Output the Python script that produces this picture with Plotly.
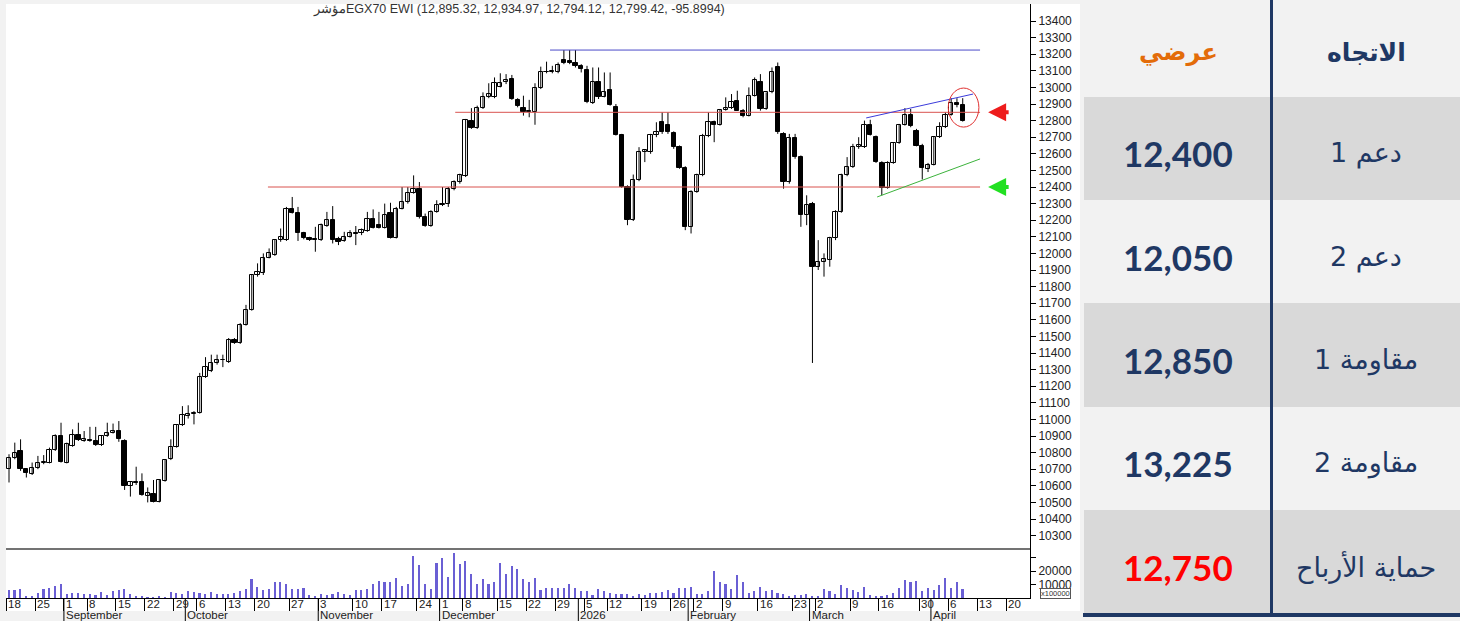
import plotly.graph_objects as go

W, H = 1460, 621

# ---------------- data ----------------
opens = [10700, 10770, 10810, 10700, 10670, 10710, 10735, 10740, 10815, 10900,
         10740, 10840, 10905, 10870, 10875, 10870, 10845, 10900, 10920, 10930,
         10870, 10600, 10625, 10620, 10540, 10550, 10505, 10630, 10760, 10835,
         10965, 11020, 11030, 11040, 11255, 11290, 11340, 11355, 11345, 11480,
         11460, 11570, 11660, 11870, 11880, 11975, 11990, 12080, 12080, 12270,
         12245, 12125, 12090, 12085, 12080, 12165, 12200, 12085, 12075, 12100,
         12120, 12120, 12135, 12210, 12170, 12155, 12245, 12095, 12270, 12310,
         12365, 12385, 12220, 12165, 12250, 12290, 12300, 12390, 12430, 12465,
         12795, 12755, 12875, 12940, 12940, 13005, 13030, 13050, 12925, 12875,
         12855, 12850, 12995, 13090, 13095, 13090, 13165, 13160, 13145, 13130,
         13105, 12905, 13030, 12945, 12985, 12880, 12715, 12400, 12200, 12440,
         12610, 12610, 12715, 12790, 12775, 12725, 12640, 12515, 12160, 12370,
         12470, 12710, 12790, 12775, 12865, 12875, 12920, 12860, 12830, 12950,
         13030, 12870, 12970, 13120, 12720, 12430, 12695, 12580, 12230, 12300,
         11920, 11950, 11960, 12090, 12250, 12470, 12520, 12640, 12640, 12775,
         12700, 12545, 12395, 12545, 12665, 12775, 12835, 12740, 12650, 12510,
         12535, 12700, 12760, 12835, 12905, 12895.32]
highs = [10790, 10860, 10880, 10705, 10740, 10780, 10785, 10830, 10910, 10980,
         10860, 10940, 10980, 10930, 10955, 10955, 10905, 10980, 10975, 10990,
         10880, 10625, 10715, 10675, 10590, 10635, 10640, 10760, 10880, 10970,
         11080, 11085, 11050, 11280, 11375, 11390, 11390, 11390, 11490, 11490,
         11580, 11690, 11875, 11940, 12000, 12030, 12085, 12150, 12280, 12340,
         12280, 12130, 12100, 12160, 12180, 12250, 12285, 12100, 12130, 12140,
         12165, 12150, 12250, 12265, 12250, 12300, 12305, 12280, 12400, 12400,
         12470, 12430, 12240, 12260, 12320, 12400, 12400, 12440, 12480, 12810,
         12875, 12890, 12970, 13025, 13060, 13085, 13080, 13075, 12935, 12950,
         12925, 13025, 13125, 13155, 13130, 13150, 13225, 13225, 13225, 13140,
         13130, 13120, 13120, 13090, 13090, 12900, 12720, 12410, 12475, 12640,
         12625, 12720, 12790, 12850, 12850, 12735, 12650, 12525, 12380, 12480,
         12720, 12850, 12800, 12870, 12940, 12960, 12980, 12870, 13000, 13060,
         13080, 12970, 13120, 13150, 12730, 12720, 12720, 12590, 12350, 12310,
         12080, 12000, 12100, 12260, 12480, 12580, 12660, 12700, 12800, 12805,
         12710, 12555, 12555, 12670, 12780, 12875, 12870, 12750, 12660, 12545,
         12705, 12790, 12850, 12935, 12935, 12934.97]
lows = [10620, 10760, 10690, 10650, 10665, 10700, 10730, 10735, 10810, 10740,
        10735, 10835, 10870, 10865, 10865, 10840, 10840, 10895, 10915, 10865,
        10575, 10535, 10605, 10540, 10500, 10500, 10500, 10625, 10755, 10830,
        10960, 11005, 10970, 11035, 11250, 11285, 11330, 11315, 11340, 11455,
        11455, 11565, 11655, 11860, 11870, 11970, 11985, 12070, 12075, 12240,
        12075, 12085, 12075, 12010, 12075, 12160, 12060, 12050, 12070, 12095,
        12050, 12110, 12130, 12150, 12150, 12150, 12090, 12090, 12265, 12300,
        12360, 12210, 12160, 12160, 12245, 12285, 12280, 12380, 12420, 12460,
        12750, 12750, 12870, 12935, 12935, 13000, 13020, 12925, 12880, 12830,
        12820, 12775, 12990, 13085, 13085, 13085, 13140, 13140, 13120, 13090,
        12905, 12900, 12930, 12940, 12890, 12710, 12395, 12170, 12195, 12435,
        12550, 12600, 12700, 12720, 12720, 12630, 12510, 12140, 12120, 12365,
        12465, 12700, 12670, 12770, 12860, 12870, 12860, 12820, 12825, 12945,
        12860, 12865, 12965, 12720, 12390, 12420, 12570, 12160, 12170, 11340,
        11900, 11860, 11920, 12080, 12245, 12465, 12515, 12630, 12635, 12710,
        12545, 12350, 12390, 12540, 12660, 12770, 12760, 12645, 12445, 12490,
        12530, 12695, 12755, 12830, 12880, 12794.12]
closes = [10770, 10800, 10700, 10680, 10710, 10740, 10745, 10815, 10900, 10745,
          10850, 10905, 10875, 10880, 10870, 10845, 10900, 10920, 10930, 10880,
          10600, 10620, 10615, 10545, 10555, 10505, 10635, 10755, 10835, 10965,
          11025, 11030, 11040, 11255, 11315, 11340, 11355, 11360, 11480, 11460,
          11570, 11660, 11870, 11890, 11975, 12005, 12080, 12100, 12270, 12245,
          12125, 12090, 12080, 12080, 12170, 12200, 12080, 12070, 12100, 12120,
          12115, 12140, 12205, 12155, 12155, 12230, 12095, 12270, 12310, 12365,
          12385, 12220, 12165, 12250, 12290, 12300, 12390, 12430, 12470, 12805,
          12755, 12875, 12940, 12960, 13025, 13025, 13045, 12930, 12885, 12850,
          12850, 12995, 13095, 13095, 13100, 13135, 13150, 13145, 13130, 13110,
          12910, 13030, 12940, 12975, 12895, 12715, 12400, 12200, 12440, 12610,
          12620, 12715, 12730, 12730, 12730, 12640, 12515, 12160, 12370, 12470,
          12710, 12790, 12775, 12865, 12875, 12910, 12860, 12830, 12950, 13045,
          12870, 12970, 13090, 12730, 12430, 12695, 12580, 12230, 12290, 11920,
          11950, 11965, 12090, 12250, 12470, 12520, 12640, 12655, 12775, 12715,
          12550, 12395, 12545, 12665, 12775, 12835, 12765, 12650, 12515, 12535,
          12700, 12760, 12835, 12905, 12895.32, 12799.42]
volumes = [5600, 5600, 6400, 800, 800, 3800, 6400, 7100, 8900, 10200,
           3100, 3800, 3800, 2600, 3100, 2000, 4600, 2000, 5100, 5600,
           6400, 2600, 800, 800, 500, 500, 800, 500, 4600, 3800,
           3100, 5100, 4600, 3800, 3100, 4600, 3100, 3100, 2600, 3800,
           5100, 6400, 14000, 8200, 5600, 6400, 11500, 11500, 10200, 6400,
           6400, 7100, 2000, 1300, 3100, 2000, 3100, 4600, 3100, 2000,
           5600, 5600, 6400, 10200, 12800, 11500, 11500, 14800, 8900, 10200,
           31100, 24200, 10200, 6400, 26000, 29300, 15800, 33700, 25500, 27500,
           17900, 10200, 14000, 10200, 11500, 26000, 17900, 23500, 21700, 14000,
           11500, 14800, 5600, 7700, 7100, 7100, 7100, 10200, 7700, 5100,
           5100, 2000, 6400, 5100, 3800, 3100, 3100, 2600, 1000, 2600,
           2000, 3800, 3800, 4600, 5600, 3800, 7100, 7700, 8200, 2600,
           3100, 5100, 19900, 11500, 10200, 6400, 17300, 11500, 3800, 5100,
           8200, 5100, 5600, 3800, 2600, 1300, 2000, 2000, 2600, 1300,
           1500, 6400, 5100, 3100, 9700, 7100, 5600, 4600, 8200, 2000,
           1300, 1500, 2000, 3800, 7100, 13300, 12200, 12800, 5100, 7100,
           5600, 9700, 14800, 7100, 11500, 6400]

week_labels = ["18", "25", "1", "8", "15", "22", "29", "6", "13", "20", "27",
               "3", "10", "17", "24", "1", "8", "15", "22", "29", "5", "12",
               "19", "26", "2", "9", "16", "23", "2", "9", "16", "30", "6",
               "13", "20"]
week_start = [0, 5, 10, 14, 19, 24, 29, 33, 38, 43, 49, 54, 60, 65, 71, 75,
              79, 85, 90, 95, 100, 104, 110, 115, 119, 124, 130, 136, 140,
              146, 151, 158, 163, 168, 173]
month_labels = ["September", "October", "November", "December", "2026",
                "February", "March", "April"]
month_start = [10, 31, 54, 75, 99, 118, 139, 160]
price_ticks = list(range(10300, 13401, 100))
vol_ticks = [10000, 20000, 30000]
vol_ticktext = ["10000", "20000", ""]

title_text = "مؤشر" + "EGX70 EWI (12,895.32, 12,934.97, 12,794.12, 12,799.42, -95.8994)"

trend_label = "الاتجاه"
trend_value = "عرضي"
level_names = ["دعم 1", "دعم 2", "مقاومة 1", "مقاومة 2", "حماية الأرباح"]
level_values = [12400, 12050, 12850, 13225, 12750]

# ---------------- helpers ----------------
def px(x):
    return x / W


def py(y):
    return 1 - y / H


n = len(closes)
idx = list(range(n))
XL, XR = -0.52, 176.64
P_LO, P_HI = 10219.3, 13502.4
NAVY = "#1f3864"
BODY_W = 0.74
MIN_BODY = 5  # smallest visible body (price units) for doji candles

# wicks (drawn first, behind the bodies)
wx, wy = [], []
for i in idx:
    wx += [i, i, None]
    wy += [lows[i], highs[i], None]

up = [i for i in idx if closes[i] >= opens[i]]
dn = [i for i in idx if closes[i] < opens[i]]


def bodies(sel):
    base = [min(opens[i], closes[i]) for i in sel]
    hgt = [max(abs(closes[i] - opens[i]), MIN_BODY) for i in sel]
    return base, hgt


fig = go.Figure()
fig.add_trace(go.Scatter(x=wx, y=wy, mode="lines", xaxis="x", yaxis="y",
                         line=dict(color="black", width=1),
                         hoverinfo="skip", showlegend=False))
b_up, h_up = bodies(up)
fig.add_trace(go.Bar(x=up, y=h_up, base=b_up, xaxis="x", yaxis="y",
                     width=BODY_W, marker=dict(color="white",
                                               line=dict(color="black",
                                                         width=1)),
                     hoverinfo="skip", showlegend=False))
b_dn, h_dn = bodies(dn)
fig.add_trace(go.Bar(x=dn, y=h_dn, base=b_dn, xaxis="x", yaxis="y",
                     width=BODY_W, marker=dict(color="black",
                                               line=dict(color="black",
                                                         width=1)),
                     hoverinfo="skip", showlegend=False))
fig.add_trace(go.Bar(
    x=idx, y=volumes, xaxis="x2", yaxis="y2", width=0.28,
    marker=dict(color="#6a5fd4", line=dict(width=0)),
    hoverinfo="skip", showlegend=False))

axfont = dict(family="Liberation Sans, Arial", size=12, color="#222")
fig.update_layout(
    width=W, height=H, margin=dict(l=0, r=0, t=0, b=0),
    paper_bgcolor="#f2f2f2", plot_bgcolor="white", showlegend=False,
    hovermode=False, barmode="overlay", bargap=0,
    xaxis=dict(domain=[px(6), px(1030)], range=[XL, XR], anchor="y",
               showticklabels=False, showgrid=False, zeroline=False,
               showline=False, ticks=""),
    yaxis=dict(domain=[py(549), py(4)], range=[P_LO, P_HI], anchor="x",
               side="right", tickvals=price_ticks,
               ticktext=[str(v) for v in price_ticks], ticks="outside",
               ticklen=5, tickcolor="black", showline=True,
               linecolor="black", linewidth=1, showgrid=False,
               zeroline=False, tickfont=axfont),
    xaxis2=dict(domain=[px(6), px(1030)], range=[XL, XR], anchor="y2",
                tickvals=[w - 0.5 for w in week_start], ticks="outside",
                ticklen=12, tickcolor="black", showticklabels=False,
                showline=True, linecolor="black", linewidth=1,
                showgrid=False, zeroline=False),
    yaxis2=dict(domain=[py(598), py(549)], range=[0, 36300], anchor="x2",
                side="right", tickvals=vol_ticks, ticktext=vol_ticktext,
                ticks="outside", ticklen=5, tickcolor="black",
                showline=True, linecolor="black", linewidth=1,
                showgrid=False, zeroline=False, tickfont=axfont),
)

shapes = []
# white chart panel
shapes.append(dict(type="rect", xref="paper", yref="paper", layer="below",
                   x0=px(6), x1=px(1080), y0=py(611), y1=py(4),
                   fillcolor="white", line=dict(width=0)))
# separator between price and volume panels
shapes.append(dict(type="line", xref="paper", yref="paper",
                   x0=px(6), x1=px(1030), y0=py(549), y1=py(549),
                   line=dict(color="#444", width=1.5)))
# month separators
for m in month_start:
    shapes.append(dict(type="line", xref="x2", yref="paper",
                       x0=m - 0.5, x1=m - 0.5, y0=py(598), y1=py(621),
                       line=dict(color="black", width=1)))
# horizontal support / resistance lines
line_end = 168
shapes.append(dict(type="line", xref="x", yref="y", x0=44.8, x1=line_end,
                   y0=level_values[0], y1=level_values[0],
                   line=dict(color="#d9534f", width=1)))
shapes.append(dict(type="line", xref="x", yref="y", x0=77.2, x1=line_end,
                   y0=level_values[2], y1=level_values[2],
                   line=dict(color="#d9534f", width=1)))
shapes.append(dict(type="line", xref="x", yref="y", x0=93.6, x1=line_end,
                   y0=level_values[3], y1=level_values[3],
                   line=dict(color="#4b4bc8", width=1)))
# channel lines
shapes.append(dict(type="line", xref="x", yref="y", x0=148.3, x1=166.8,
                   y0=12816, y1=12960, line=dict(color="#3b3bdb", width=1)))
shapes.append(dict(type="line", xref="x", yref="y", x0=150.2, x1=168,
                   y0=12340, y1=12569, line=dict(color="#3cb33c", width=1)))
# circle on the last candles
shapes.append(dict(type="circle", xref="x", yref="y", x0=162.5, x1=167.8,
                   y0=12761, y1=12996, line=dict(color="#e03030", width=1)))

# ---------------- table on the right ----------------
row_edges = [0, 97, 200, 303, 407, 510, 613]
for r in range(6):
    color = "#d9d9d9" if r % 2 == 1 else "#f2f2f2"
    shapes.append(dict(type="rect", xref="paper", yref="paper", layer="below",
                       x0=px(1084), x1=px(1460),
                       y0=py(row_edges[r + 1]), y1=py(row_edges[r]),
                       fillcolor=color, line=dict(width=0)))
shapes.append(dict(type="rect", xref="paper", yref="paper",
                   x0=px(1083), x1=px(1460), y0=py(617), y1=py(613),
                   fillcolor=NAVY, line=dict(width=0)))
shapes.append(dict(type="rect", xref="paper", yref="paper",
                   x0=px(1270), x1=px(1273), y0=py(617), y1=py(0),
                   fillcolor=NAVY, line=dict(width=0)))

ann = []
ann.append(dict(xref="paper", yref="paper", x=px(519), y=py(10),
                text=title_text, showarrow=False, xanchor="center",
                yanchor="middle",
                font=dict(family="Liberation Sans, Arial", size=12.5,
                          color="#333")))
for lab, w in zip(week_labels, week_start):
    ann.append(dict(xref="x2", yref="paper", x=w - 0.5, y=py(604),
                    text=lab, showarrow=False, xanchor="left",
                    yanchor="middle", xshift=0,
                    font=dict(family="Liberation Sans, Arial", size=11.5,
                              color="#222")))
for lab, m in zip(month_labels, month_start):
    ann.append(dict(xref="x2", yref="paper", x=m - 0.5, y=py(614.5),
                    text=lab, showarrow=False, xanchor="left",
                    yanchor="middle", xshift=0,
                    font=dict(family="Liberation Sans, Arial", size=11.5,
                              color="#222")))
ann.append(dict(xref="paper", yref="paper", x=px(1055), y=py(593),
                text="x100000", showarrow=False, xanchor="center",
                yanchor="middle", bordercolor="#555", borderwidth=1,
                borderpad=0, bgcolor="rgba(255,255,255,0.6)",
                font=dict(family="Liberation Sans, Arial", size=7.5,
                          color="#333")))
# arrows pointing at the support / resistance lines
ann.append(dict(xref="x", yref="y", x=169.4, y=level_values[2], ax=22, ay=0,
                text="", showarrow=True, arrowhead=2, arrowsize=0.9,
                arrowwidth=4, arrowcolor="#ee1c1c"))
ann.append(dict(xref="x", yref="y", x=169.4, y=level_values[0], ax=22, ay=0,
                text="", showarrow=True, arrowhead=2, arrowsize=0.9,
                arrowwidth=4, arrowcolor="#22e022"))

row_centers = [52, 153, 257, 360, 463, 567]
arfont = "DejaVu Sans"
ann.append(dict(xref="paper", yref="paper", x=px(1366), y=py(row_centers[0]),
                xanchor="center", yanchor="middle",
                text="<b>" + trend_label + "</b>", showarrow=False,
                font=dict(family=arfont, size=25, color=NAVY)))
ann.append(dict(xref="paper", yref="paper", x=px(1178), y=py(row_centers[0]),
                xanchor="center", yanchor="middle",
                text="<b>" + trend_value + "</b>", showarrow=False,
                font=dict(family=arfont, size=24, color="#e36c09")))
for i, (name, val) in enumerate(zip(level_names, level_values)):
    yc = py(row_centers[i + 1])
    vcol = "#ff0000" if i == len(level_values) - 1 else NAVY
    ann.append(dict(xref="paper", yref="paper", x=px(1366), y=yc,
                    xanchor="center", yanchor="middle",
                    text=name, showarrow=False,
                    font=dict(family=arfont, size=27, color=NAVY)))
    ann.append(dict(xref="paper", yref="paper", x=px(1178), y=yc,
                    xanchor="center", yanchor="middle",
                    text="<b>" + f"{val:,}" + "</b>", showarrow=False,
                    font=dict(family="Lato, DejaVu Sans", size=35,
                              color=vcol)))

fig.update_layout(shapes=shapes, annotations=ann)
fig.write_html("out.html")
